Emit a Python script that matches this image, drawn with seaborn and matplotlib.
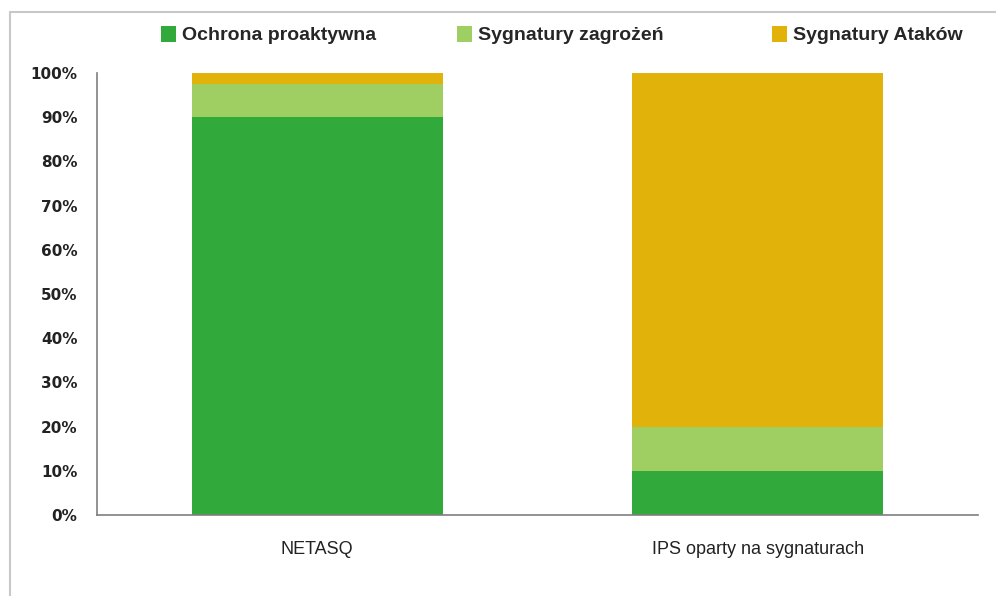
"""
Stacked 100% bar chart: NETASQ vs signature based IPS.
"""

#Libraries
import numpy as np
import pandas as pd
import matplotlib
matplotlib.use("Agg")
import matplotlib.pyplot as plt
import seaborn as sns
from matplotlib.patches import Patch
from matplotlib.lines import Line2D

#Data
categories = ["NETASQ", "IPS oparty na sygnaturach"]
series_names = ["Ochrona proaktywna", "Sygnatury zagrożeń", "Sygnatury Ataków"]
ochrona = [90, 10]
sygn_zagrozen = [7.5, 10]
sygn_atakow = [2.5, 80]
y_ticks = [0, 10, 20, 30, 40, 50, 60, 70, 80, 90, 100]
y_tick_labels = [f"{t}%" for t in y_ticks]

colors = ["#32AA3B", "#9FCF62", "#E1B30A"]

#Long table, then cumulative totals so the layers can be drawn top-down.
df = pd.DataFrame({
    "category": categories,
    series_names[0]: ochrona,
    series_names[1]: sygn_zagrozen,
    series_names[2]: sygn_atakow,
})
cum = df[series_names].cumsum(axis=1)

sns.set_style("white")

fig = plt.figure(figsize=(9.96, 5.96), dpi=100)
ax = fig.add_axes([97 / 996, 1 - 515 / 596, (978 - 97) / 996, (515 - 73) / 596])

#Draw the highest cumulative layer first, smaller ones on top of it.
for name, col in reversed(list(zip(series_names, colors))):
    sns.barplot(x=df["category"], y=cum[name], color=col, width=0.57,
                saturation=1, linewidth=0, ax=ax)

ax.set_xlim(-0.5, 1.5)
ax.set_ylim(0, 100)
ax.set_yticks(y_ticks)
ax.set_yticklabels(y_tick_labels, fontfamily="DejaVu Sans", fontweight="bold",
                   fontsize=11, color="#222222")
ax.set_xticks(range(len(categories)))
ax.set_xticklabels(categories, fontfamily="Liberation Sans", fontsize=13, color="#222222")
ax.tick_params(axis="y", length=0, pad=14)
ax.tick_params(axis="x", length=0, pad=19)
ax.set_xlabel("")
ax.set_ylabel("")

for side in ["top", "right"]:
    ax.spines[side].set_visible(False)
for side in ["left", "bottom"]:
    ax.spines[side].set_color("#7f7f7f")
    ax.spines[side].set_linewidth(1.2)

#Outer frame of the original chart area (left and top edges)
fig.add_artist(Line2D([10 / 996, 10 / 996], [0, 1 - 12 / 596], color="#c8c8c8", lw=1.5))
fig.add_artist(Line2D([10 / 996, 1], [1 - 12 / 596, 1 - 12 / 596], color="#c8c8c8", lw=1.5))

#Legend: one entry per box, placed like the original
legend_x = [161, 457, 772]
for name, col, lx in zip(series_names, colors, legend_x):
    leg = fig.legend([Patch(facecolor=col, edgecolor="none")], [name],
                     loc="center left", bbox_to_anchor=(lx / 996, 1 - 35 / 596),
                     frameon=False, handlelength=0.75, handleheight=0.9,
                     handletextpad=0.35, borderaxespad=0, borderpad=0,
                     prop={"family": "Liberation Sans", "weight": "bold", "size": 14})

fig.savefig("out.png", dpi=100)
